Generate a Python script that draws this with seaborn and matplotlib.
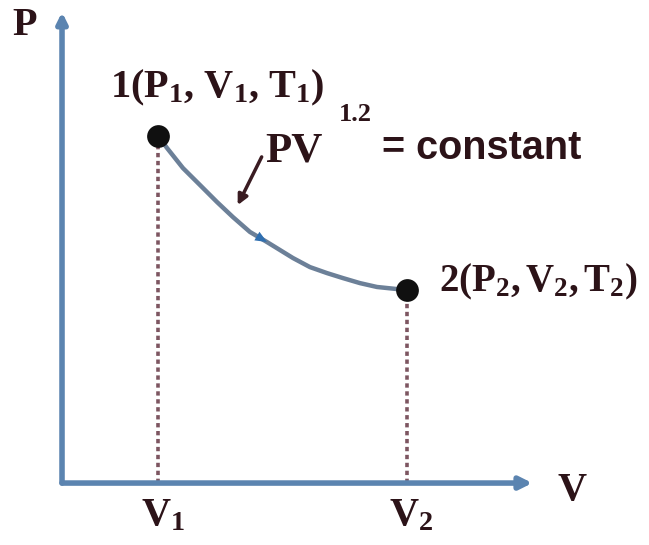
import matplotlib
matplotlib.use("Agg")
import matplotlib.pyplot as plt
import seaborn as sns
import pandas as pd

# State points of the process (arbitrary units)
state_labels = ["1", "2"]
state_V = [1.0, 3.59]
state_P = [1.80, 1.00]

# Process path PV^1.2 = constant, traced between the two states
path_V = [1.000, 1.094, 1.260, 1.438, 1.615, 1.781, 1.958, 2.135,
          2.406, 2.583, 2.760, 2.927, 3.104, 3.281, 3.590]
path_P = [1.800, 1.736, 1.632, 1.544, 1.456, 1.378, 1.301, 1.249,
          1.166, 1.119, 1.088, 1.062, 1.036, 1.016, 1.000]

axis_tick_labels = [r"V$_1$", r"V$_2$"]

sns.set_theme(style="white")
plt.rcParams["mathtext.fontset"] = "custom"
plt.rcParams["mathtext.rm"] = "Liberation Serif:bold"
plt.rcParams["mathtext.it"] = "Liberation Serif:bold"
plt.rcParams["mathtext.bf"] = "Liberation Serif:bold"
plt.rcParams["font.family"] = ["Liberation Serif", "DejaVu Serif"]

text_color = "#2c1318"
axis_color = "#5b84b0"
curve_color = "#6c8098"
guide_color = "#7d5661"

fig = plt.figure(figsize=(6.49, 5.45), dpi=100)
ax = fig.add_axes([0, 0, 1, 1])
ax.set_xlim(-0.646, 6.115)
ax.set_ylim(-0.321, 2.503)
ax.axis("off")

# Coordinate axes with arrowheads
ax.annotate("", xy=(0, 2.44), xytext=(0, 0),
            arrowprops=dict(arrowstyle="-|>,head_length=0.5,head_width=0.25",
                            color=axis_color, lw=4, shrinkA=0, shrinkB=0))
ax.annotate("", xy=(4.90, 0), xytext=(0, 0),
            arrowprops=dict(arrowstyle="-|>,head_length=0.6,head_width=0.3",
                            color=axis_color, lw=4, shrinkA=0, shrinkB=0))

# Dotted guides from the states down to the V axis
for v, p in zip(state_V, state_P):
    ax.plot([v, v], [0, p], color=guide_color, lw=2.6,
            linestyle=(0, (1.2, 1.0)), zorder=2)

# Process curve
path = pd.DataFrame({"V": path_V, "P": path_P})
sns.lineplot(data=path, x="V", y="P", ax=ax, color=curve_color, lw=3.2,
             sort=False, zorder=3)

# Direction arrow on the curve
ax.annotate("", xy=(path_V[7], path_P[7]), xytext=(path_V[6], path_P[6]),
            arrowprops=dict(arrowstyle="-|>,head_length=0.7,head_width=0.3",
                            color="#2f6fb0", lw=0, shrinkA=0, shrinkB=0),
            zorder=4)

# State points
states = pd.DataFrame({"V": state_V, "P": state_P, "state": state_labels})
sns.scatterplot(data=states, x="V", y="P", ax=ax, color="#101010", s=230,
                edgecolor="#101010", zorder=5, legend=False)

fs = 29
ax.text(0.50, 2.05, r"1(P$_1$, V$_1$, T$_1$)", fontsize=fs, fontweight="bold",
        color=text_color, ha="left", va="center")
ax.text(3.93, 1.04, r"2(P$_2$,$\,$V$_2$,$\,$T$_2$)", fontsize=28,
        fontweight="bold", color=text_color, ha="left", va="center")
ax.text(2.12, 1.72, "PV", fontsize=31, fontweight="bold",
        color=text_color, ha="left", va="center")
ax.text(2.88, 1.91, "1.2", fontsize=19, fontweight="bold",
        color=text_color, ha="left", va="center")
ax.text(3.33, 1.735, "= constant", fontsize=28.5, fontweight="bold",
        family=["Liberation Sans", "DejaVu Sans"], color=text_color,
        ha="left", va="center")

# Pointer from the equation to the curve
ax.annotate("", xy=(1.83, 1.44), xytext=(2.08, 1.69),
            arrowprops=dict(arrowstyle="-|>,head_length=0.5,head_width=0.25",
                            color="#3a1c22", lw=2.5, shrinkA=0, shrinkB=0))

# Axis names and state volumes
ax.text(-0.385, 2.37, "P", fontsize=fs, fontweight="bold", color=text_color,
        ha="center", va="center")
ax.text(5.31, -0.04, "V", fontsize=fs, fontweight="bold", color=text_color,
        ha="center", va="center")
for v, lab in zip(state_V, axis_tick_labels):
    ax.text(v + 0.05, -0.17, lab, fontsize=fs, fontweight="bold",
            color=text_color, ha="center", va="center")

fig.savefig("out.png", dpi=100)
